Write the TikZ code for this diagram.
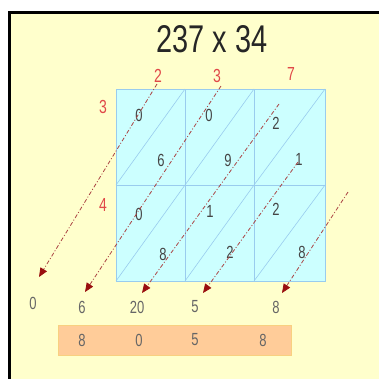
\documentclass[tikz,border=0pt]{standalone}
\usepackage{fontspec}
\setmainfont{Liberation Sans}
\usetikzlibrary{arrows.meta}
\definecolor{bgyellow}{HTML}{FFFFCC}
\definecolor{gridfill}{HTML}{CCFFFF}
\definecolor{gridline}{HTML}{99CCEE}
\definecolor{labelred}{HTML}{E04848}
\definecolor{diagred}{HTML}{AA4444}
\definecolor{tipred}{HTML}{990F0F}
\definecolor{digitgray}{HTML}{454545}
\definecolor{botgray}{HTML}{666666}
\definecolor{boxfill}{HTML}{FFCC99}
\definecolor{boxline}{HTML}{F8D080}
\newcommand\tallnum[1]{\scalebox{1}[1.35]{#1}}
\tikzset{
  cellnum/.style={text=digitgray, font=\fontsize{13}{13}\selectfont, inner sep=0pt},
  redlab/.style={text=labelred, font=\fontsize{14}{14}\selectfont, inner sep=0pt},
  botnum/.style={text=botgray, font=\fontsize{13}{13}\selectfont, inner sep=0pt},
  diagarrow/.style={draw=diagred, line width=0.8pt, dash pattern=on 4pt off 2pt on 1pt off 2pt,
    -{Triangle[length=9pt,width=7.5pt,color=tipred,fill=tipred]}},
  gridln/.style={draw=gridline, line width=0.6pt},
}
\begin{document}
\begin{tikzpicture}[x=1pt,y=-1pt]
\useasboundingbox (0,0) rectangle (379,378);
\begin{scope}
\clip (0,0) rectangle (379,378);
\fill[white] (0,0) rectangle (379,378);
\draw[fill=bgyellow, line width=3pt, draw=black] (9.5,12.5) rectangle (390,390);
\end{scope}
% title
\node[inner sep=0pt, text=black!85] (title) at (212,39) {\resizebox{111pt}{27pt}{237 x 34}};
% grid
\draw[gridln, fill=gridfill] (116,89) rectangle (325,281);
\draw[gridln] (185,89) -- (185,281) (254,89) -- (254,281) (116,185) -- (325,185);
\foreach \xa/\xb in {116/185,185/254,254/325}{
  \draw[gridln] (\xa,185) -- (\xb,89);
  \draw[gridln] (\xa,281) -- (\xb,185);
}
% red labels
\node[redlab] (t2) at (158,76) {\tallnum{2}};
\node[redlab] (t3) at (217,76) {\tallnum{3}};
\node[redlab] (t7) at (291,74) {\tallnum{7}};
\node[redlab] (l3) at (103,107) {\tallnum{3}};
\node[redlab] (l4) at (103,205) {\tallnum{4}};
% cell digits
\node[cellnum] (a1) at (139,115) {\tallnum{0}};
\node[cellnum] (a2) at (161,160) {\tallnum{6}};
\node[cellnum] (b1) at (209,115) {\tallnum{0}};
\node[cellnum] (b2) at (228,160) {\tallnum{9}};
\node[cellnum] (c1) at (276,123) {\tallnum{2}};
\node[cellnum] (c2) at (299,159) {\tallnum{1}};
\node[cellnum] (d1) at (139,214) {\tallnum{0}};
\node[cellnum] (d2) at (163,254) {\tallnum{8}};
\node[cellnum] (e1) at (210,211) {\tallnum{1}};
\node[cellnum] (e2) at (230,252) {\tallnum{2}};
\node[cellnum] (f1) at (276,209) {\tallnum{2}};
\node[cellnum] (f2) at (302,252) {\tallnum{8}};
% diagonal arrows
\coordinate (s1) at (157,84);  \coordinate (e1p) at (39,277);
\coordinate (s2) at (221,86);  \coordinate (e2p) at (85,292);
\coordinate (s3) at (279,104); \coordinate (e3p) at (142,293);
\coordinate (s4) at (298,162); \coordinate (e4p) at (203,293);
\coordinate (s5) at (348,192); \coordinate (e5p) at (282,293);
\draw[diagarrow] (s1) -- (e1p);
\draw[diagarrow] (s2) -- (e2p);
\draw[diagarrow] (s3) -- (e3p);
\draw[diagarrow] (s4) -- (e4p);
\draw[diagarrow] (s5) -- (e5p);
% bottom sums
\node[botnum] (r0) at (33,303) {\tallnum{0}};
\node[botnum] (r1) at (82,307) {\tallnum{6}};
\node[botnum] (r2) at (137,307) {\tallnum{20}};
\node[botnum] (r3) at (195,307) {\tallnum{5}};
\node[botnum] (r4) at (276,307) {\tallnum{8}};
% result box
\draw[draw=boxline, fill=boxfill, line width=0.8pt] (58,325) rectangle (291,355);
\node[botnum] (p1) at (82,340) {\tallnum{8}};
\node[botnum] (p2) at (139,340) {\tallnum{0}};
\node[botnum] (p3) at (195,340) {\tallnum{5}};
\node[botnum] (p4) at (263,340) {\tallnum{8}};
\end{tikzpicture}
\end{document}
